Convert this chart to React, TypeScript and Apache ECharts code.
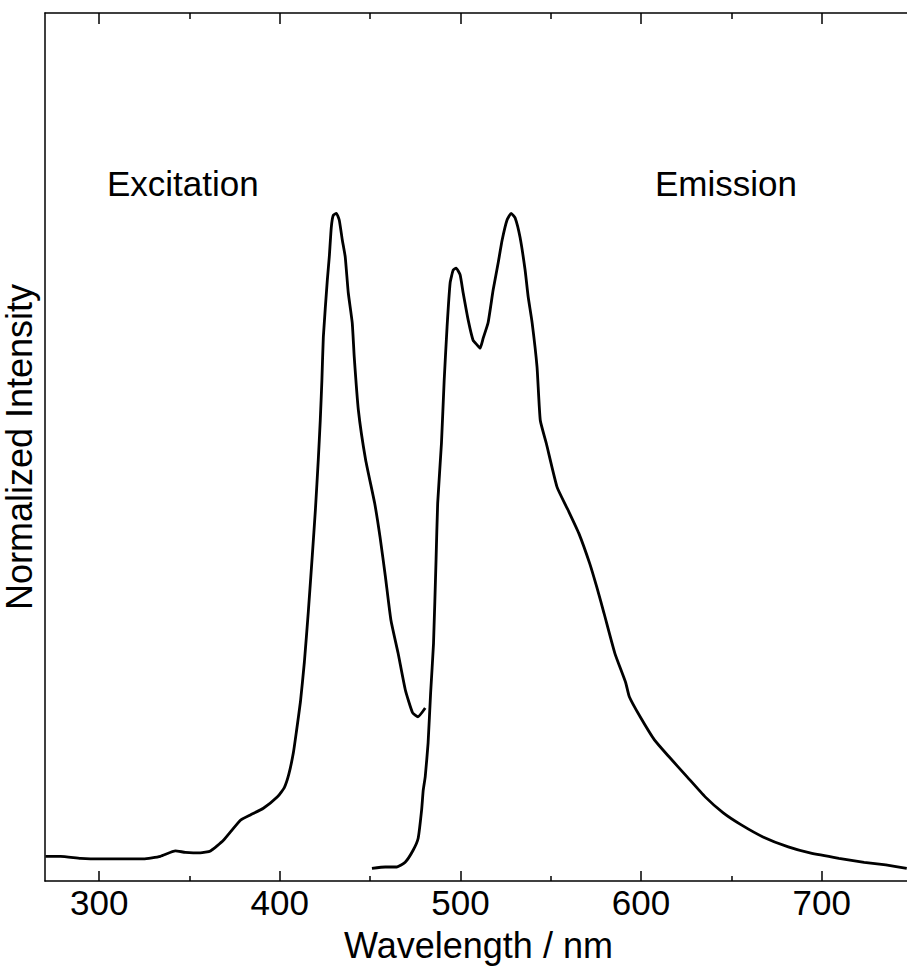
import React, { useEffect, useRef } from "react";
import * as echarts from "echarts";

// Excitation spectrum (wavelength nm, normalized intensity)
const excitationWavelength = [
  270.3, 278.6, 289.7, 300.7, 324.5, 333.9, 342.2, 347.7, 356.0, 361.6, 368.8, 378.2, 383.7,
  390.9, 398.7, 402.5, 405.0, 407.5, 409.2, 411.4, 413.6, 415.8, 418.0, 419.7, 421.3, 422.4,
  423.3, 424.1, 426.3, 427.4, 428.5, 429.6, 431.3, 432.9, 434.6, 436.2, 437.9, 440.1, 441.2,
  443.5, 447.5, 452.5, 455.5, 458.5, 461.5, 465.5, 469.5, 473.5, 476.5, 480.5,
];
const excitationIntensity = [
  0.037, 0.037, 0.034, 0.033, 0.033, 0.037, 0.045, 0.043, 0.042, 0.045, 0.061, 0.091, 0.099,
  0.109, 0.126, 0.14, 0.16, 0.192, 0.224, 0.268, 0.328, 0.404, 0.488, 0.556, 0.631, 0.69,
  0.75, 0.815, 0.9, 0.935, 0.979, 0.997, 1.0, 0.99, 0.96, 0.935, 0.881, 0.836, 0.785,
  0.705, 0.631, 0.566, 0.515, 0.455, 0.391, 0.341, 0.286, 0.252, 0.246, 0.259,
];

// Emission spectrum
const emissionWavelength = [
  451.0, 458.4, 464.8, 469.4, 473.8, 476.6, 478.5, 479.4, 480.5, 482.1, 483.5, 485.1, 486.5,
  487.4, 489.5, 491.0, 492.6, 494.3, 496.0, 497.6, 499.8, 501.5, 504.3, 507.0, 509.2, 510.9,
  512.6, 515.3, 518.1, 520.9, 523.1, 525.8, 528.1, 530.3, 533.0, 535.8, 537.5, 539.7, 542.4,
  544.2, 547.5, 553.5, 559.5, 565.5, 571.5, 575.5, 579.5, 585.5, 591.5, 593.5, 599.5, 607.5,
  615.5, 625.5, 635.5, 645.5, 655.5, 667.5, 681.5, 693.5, 709.5, 723.5, 735.5, 747.1,
];
const emissionIntensity = [
  0.019, 0.021, 0.021, 0.028, 0.046, 0.064, 0.106, 0.136, 0.156, 0.207, 0.282, 0.356, 0.481,
  0.566, 0.656, 0.75, 0.83, 0.896, 0.915, 0.918, 0.908, 0.881, 0.84, 0.81, 0.803, 0.798,
  0.813, 0.836, 0.885, 0.926, 0.96, 0.99, 1.0, 0.993, 0.964, 0.915, 0.875, 0.836, 0.77,
  0.69, 0.656, 0.59, 0.556, 0.521, 0.476, 0.44, 0.401, 0.341, 0.297, 0.276, 0.246, 0.211,
  0.186, 0.156, 0.126, 0.102, 0.084, 0.066, 0.051, 0.042, 0.034, 0.028, 0.024, 0.019,
];

const majorTicks = [300, 400, 500, 600, 700];
const minorTicks = [350, 450, 550, 650];

const xTitle = "Wavelength / nm";
const yTitle = "Normalized Intensity";
const excitationLabel = "Excitation";
const emissionLabel = "Emission";

const FONT = "Liberation Sans, Arial, sans-serif";

export default function App() {
  const ref = useRef<HTMLDivElement>(null);

  useEffect(() => {
    if (!ref.current) return;
    const chart = echarts.init(ref.current, null, { renderer: "svg" });

    const lineStyle = { color: "#000", width: 1.5 };
    const baseX = {
      type: "value" as const,
      min: 270,
      max: 750,
      splitLine: { show: false },
    };

    const excitationData = excitationWavelength.map((w, i) => [w, excitationIntensity[i]]);
    const emissionData = emissionWavelength.map((w, i) => [w, emissionIntensity[i]]);

    chart.setOption({
      animation: false,
      backgroundColor: "#fff",
      textStyle: { fontFamily: FONT },
      grid: {
        left: 45,
        top: 13,
        width: 867,
        height: 868,
        containLabel: false,
        outerBoundsMode: "none",
      },
      xAxis: [
        {
          ...baseX,
          position: "bottom",
          axisLine: { show: true, lineStyle },
          axisTick: {
            show: true,
            inside: true,
            length: 10,
            lineStyle,
            customValues: majorTicks,
          },
          axisLabel: {
            show: true,
            customValues: majorTicks,
            color: "#000",
            fontSize: 35,
            fontFamily: FONT,
            margin: 4,
          },
          name: xTitle,
          nameLocation: "middle",
          nameGap: 46,
          nameTextStyle: { color: "#000", fontSize: 36, fontFamily: FONT },
        },
        {
          ...baseX,
          position: "bottom",
          axisLine: { show: false },
          axisTick: {
            show: true,
            inside: true,
            length: 5,
            lineStyle,
            customValues: minorTicks,
          },
          axisLabel: { show: false },
        },
        {
          ...baseX,
          position: "top",
          axisLine: { show: true, lineStyle },
          axisTick: {
            show: true,
            inside: true,
            length: 11,
            lineStyle,
            customValues: majorTicks,
          },
          axisLabel: { show: false },
        },
        {
          ...baseX,
          position: "top",
          axisLine: { show: false },
          axisTick: {
            show: true,
            inside: true,
            length: 6,
            lineStyle,
            customValues: minorTicks,
          },
          axisLabel: { show: false },
        },
      ],
      yAxis: {
        type: "value",
        min: 0,
        max: 1.3,
        axisLine: { show: true, lineStyle },
        axisTick: { show: false },
        axisLabel: { show: false },
        splitLine: { show: false },
        name: yTitle,
        nameLocation: "middle",
        nameGap: 8,
        nameRotate: 90,
        nameTextStyle: { color: "#000", fontSize: 36, fontFamily: FONT },
      },
      graphic: [
        {
          type: "text",
          left: 107,
          top: 166,
          style: { text: excitationLabel, fill: "#000", fontSize: 35, fontFamily: FONT },
        },
        {
          type: "text",
          left: 655,
          top: 166,
          style: { text: emissionLabel, fill: "#000", fontSize: 35, fontFamily: FONT },
        },
      ],
      series: [
        {
          type: "line",
          name: excitationLabel,
          data: excitationData,
          showSymbol: false,
          smooth: 0.15,
          xAxisIndex: 0,
          lineStyle: { color: "#000", width: 2.8 },
        },
        {
          type: "line",
          name: emissionLabel,
          data: emissionData,
          showSymbol: false,
          smooth: 0.15,
          xAxisIndex: 0,
          lineStyle: { color: "#000", width: 2.8 },
        },
      ],
    });

    return () => chart.dispose();
  }, []);

  return (
    <div
      ref={ref}
      style={{ position: "fixed", left: 0, top: 0, width: 907, height: 969, background: "#fff" }}
    />
  );
}
